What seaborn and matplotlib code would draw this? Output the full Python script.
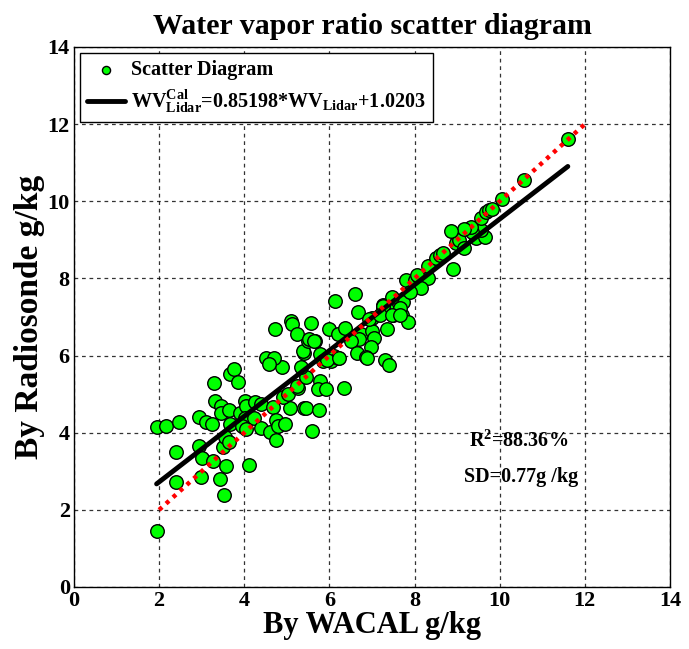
import numpy as np
import pandas as pd
import seaborn as sns
import matplotlib
matplotlib.use("Agg")
import matplotlib.pyplot as plt

# ---------------- data ----------------
wacal = [1.94, 1.94, 2.17, 2.47, 2.39, 2.39, 2.93, 3.09, 3.24, 2.93, 3.01, 3.26, 2.98, 3.43,
         3.57, 3.53, 3.51, 3.55, 3.64, 3.67, 4.12, 3.32, 3.46, 3.45, 3.63, 3.90, 4.02, 4.03,
         4.02, 4.25, 4.40, 4.23, 3.94, 4.05, 4.40, 4.60, 4.67, 4.75, 4.79, 4.75, 4.95, 5.08,
         5.41, 5.45, 5.76, 5.60, 4.92, 5.02, 5.26, 5.24, 5.45, 5.33, 5.78, 5.74, 5.91, 3.28,
         3.67, 3.76, 3.86, 4.89, 4.52, 4.69, 4.58, 5.41, 5.37, 5.78, 5.84, 6.03, 6.11, 6.21,
         5.49, 5.67, 4.73, 5.10, 5.12, 5.24, 5.51, 5.64, 5.57, 5.99, 6.19, 6.36, 6.34, 6.12,
         6.61, 6.67, 6.73, 6.69, 6.51, 7.00, 7.05, 6.98, 6.65, 6.87, 7.31, 7.41, 7.35, 7.50,
         7.70, 7.85, 7.73, 7.27, 7.35, 7.27, 7.66, 7.00, 6.92, 7.81, 8.01, 8.08, 8.32, 8.16,
         7.89, 7.47, 7.27, 8.05, 8.32, 8.51, 8.59, 8.67, 8.90, 8.98, 9.05, 9.17, 9.44, 9.65,
         9.56, 9.36, 9.33, 9.17, 8.86, 9.56, 9.67, 9.75, 9.83, 10.05, 10.57, 11.60, 5.95, 6.22,
         6.88, 7.19, 7.47, 7.66]
radiosonde = [1.45, 4.14, 4.18, 4.27, 3.51, 2.72, 4.42, 4.27, 4.22, 3.66, 3.35, 3.26, 2.86, 2.80,
              3.15, 2.39, 3.62, 3.88, 3.75, 4.22, 3.17, 4.83, 4.70, 4.50, 4.59, 4.52, 4.83, 4.70,
              4.39, 4.80, 4.74, 4.39, 4.18, 4.10, 4.12, 4.03, 4.67, 4.33, 4.18, 3.81, 4.22, 4.63,
              4.65, 4.65, 4.59, 4.05, 4.93, 5.00, 5.17, 5.21, 5.45, 5.70, 5.34, 5.13, 5.13, 5.30,
              5.51, 5.66, 5.32, 5.70, 5.94, 5.93, 5.77, 6.07, 6.12, 6.03, 5.86, 5.86, 5.99, 5.93,
              6.37, 6.37, 6.70, 6.89, 6.82, 6.56, 6.42, 6.39, 6.85, 6.70, 6.56, 6.72, 5.15, 7.42,
              7.59, 7.12, 6.55, 6.42, 6.37, 6.63, 6.46, 6.22, 6.07, 5.96, 5.88, 5.75, 6.70, 7.06,
              7.06, 6.87, 7.38, 7.32, 7.20, 7.23, 7.23, 6.98, 6.94, 7.97, 7.97, 8.07, 8.01, 7.75,
              7.66, 7.51, 7.28, 8.10, 8.31, 8.52, 8.61, 8.65, 8.25, 8.91, 9.00, 8.78, 9.04, 9.08,
              9.26, 9.21, 9.34, 9.28, 9.24, 9.56, 9.73, 9.77, 9.81, 10.05, 10.56, 11.62, 5.88, 5.94,
              5.94, 7.06, 7.06, 7.06]

fit_slope = 0.85198
fit_intercept = 1.0203
ref_line = [2, 12]            # 1:1 line extent
r2_text = "88.36%"
sd_text = "0.77g /kg"
xticks = [0, 2, 4, 6, 8, 10, 12, 14]
yticks = [0, 2, 4, 6, 8, 10, 12, 14]

df = pd.DataFrame({"WACAL": wacal, "Radiosonde": radiosonde})

# ---------------- style ----------------
sns.set_style("white")
plt.rcParams["font.family"] = ["Liberation Serif", "DejaVu Serif"]
plt.rcParams["font.weight"] = "bold"
plt.rcParams["text.color"] = "black"
plt.rcParams["axes.labelcolor"] = "black"
plt.rcParams["xtick.color"] = "black"
plt.rcParams["ytick.color"] = "black"
plt.rcParams["mathtext.fontset"] = "custom"
plt.rcParams["mathtext.rm"] = "Liberation Serif:bold"
plt.rcParams["mathtext.bf"] = "Liberation Serif:bold"
plt.rcParams["mathtext.it"] = "Liberation Serif:bold"

fig = plt.figure(figsize=(6.89, 6.49), dpi=100)
ax = fig.add_axes([74 / 689, 1 - 587 / 649, 596 / 689, 540 / 649])

sns.scatterplot(data=df, x="WACAL", y="Radiosonde", ax=ax, s=95,
                color="#00ff00", edgecolor="black", linewidth=1.0,
                label="Scatter Diagram", zorder=3)

xf = np.array([min(wacal), max(wacal)])
ax.plot(xf, fit_slope * xf + fit_intercept, color="black", lw=3.5, zorder=4,
        label=r"$\mathbf{WV^{Cal}_{Lidar}}$=0.85198*$\mathbf{WV_{Lidar}}$+1.0203")
ax.plot(ref_line, ref_line, color="red", lw=3.2, linestyle=(0, (0.9, 1.2)), zorder=5)

ax.set_xlim(0, 14)
ax.set_ylim(0, 14)
ax.set_xticks(xticks)
ax.set_yticks(yticks)
ax.set_xticklabels([str(t) for t in xticks], fontsize=16, fontweight="bold")
ax.set_yticklabels([str(t) for t in yticks], fontsize=16, fontweight="bold")
ax.tick_params(direction="in", length=4, width=1, pad=3, top=False, right=False,
               colors="black")
ax.grid(True, color="black", linestyle=(0, (3, 3)), linewidth=0.9, alpha=0.8)
for sp in ax.spines.values():
    sp.set_visible(True)
    sp.set_color("black")
    sp.set_linewidth(1.0)

ax.set_xlabel("By WACAL g/kg", fontsize=22, fontweight="bold", labelpad=0, color="black")
ax.set_ylabel("By Radiosonde g/kg", fontsize=24, fontweight="bold", labelpad=2, color="black")
ax.set_title("Water vapor ratio scatter diagram", fontsize=21.5, fontweight="bold", pad=9,
             color="black")

ax.text(9.27, 3.77, r"$\mathbf{R^2}$=" + r2_text, fontsize=14.5, fontweight="bold",
        va="center", color="black")
ax.text(9.16, 2.86, "SD=" + sd_text, fontsize=14.5, fontweight="bold", va="center",
        color="black")

leg = ax.legend(loc="upper left", frameon=True, fancybox=False,
                edgecolor="black", framealpha=1, borderaxespad=0.3, handlelength=1.9,
                markerscale=0.6, borderpad=0.35, labelspacing=0.35, handletextpad=0.3,
                prop={"family": ["Liberation Serif"], "weight": "bold", "size": 14.5})
leg.get_frame().set_linewidth(1.0)
for t in leg.get_texts():
    t.set_color("black")

fig.savefig("out.png", dpi=100)
